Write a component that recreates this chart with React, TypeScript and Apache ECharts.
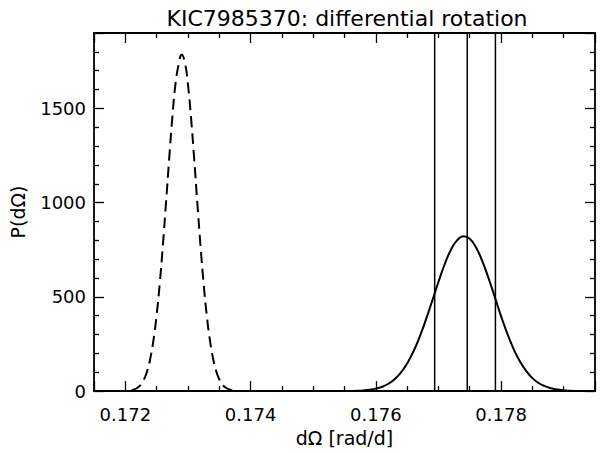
import React, { useEffect, useRef } from "react";
import * as echarts from "echarts";

const titleText = "KIC7985370: differential rotation";
const xName = "dΩ [rad/d]";
const yName = "P(dΩ)";

// dashed distribution
const dashX = [
  0.1721, 0.17215, 0.1722, 0.17225, 0.1723, 0.17235, 0.1724, 0.17245, 0.1725, 0.17255,
  0.1726, 0.17265, 0.1727, 0.17275, 0.1728, 0.17285, 0.1729, 0.17295, 0.173, 0.17305,
  0.1731, 0.17315, 0.1732, 0.17325, 0.1733, 0.17335, 0.1734, 0.17345, 0.1735, 0.17355,
  0.1736, 0.17365, 0.1737, 0.1738, 0.1740,
];
const dashY = [
  5, 10, 19, 35, 63, 107, 175, 272, 404, 572,
  774, 999, 1231, 1448, 1627, 1730, 1785, 1745, 1627, 1448,
  1231, 999, 774, 572, 404, 272, 175, 107, 63, 35,
  19, 10, 5, 1, 0,
];

// solid distribution
const solidX = [
  0.1755, 0.1756, 0.1757, 0.1758, 0.1759, 0.176, 0.1761, 0.1762, 0.1763, 0.1764,
  0.1765, 0.1766, 0.1767, 0.1768, 0.1769, 0.177, 0.1771, 0.1772, 0.1773, 0.1774,
  0.1775, 0.1776, 0.1777, 0.1778, 0.1779, 0.178, 0.1781, 0.1782, 0.1783, 0.1784,
  0.1785, 0.1786, 0.1787, 0.1788, 0.1789, 0.179, 0.1791, 0.1792, 0.1793, 0.1794, 0.1795,
];
const solidY = [
  0.4, 0.9, 1.9, 3.7, 7.1, 13, 23, 39, 63, 98,
  147, 210, 288, 379, 478, 579, 673, 750, 801, 822,
  808, 762, 690, 599, 499, 398, 305, 224, 158, 107,
  69, 43, 26, 15, 8, 4.2, 2.1, 1, 0.5, 0.2, 0.1,
];

// vertical marker lines (-1σ, median, +1σ)
const markerX = [0.17694, 0.17746, 0.17791];

const xMin = 0.1715;
const xMax = 0.1795;
const yMin = 0;
const yMax = 1900;

const FONT = "DejaVu Sans";

export default function App() {
  const ref = useRef<HTMLDivElement>(null);
  useEffect(() => {
    if (!ref.current) return;
    const chart = echarts.init(ref.current, undefined, { renderer: "svg" });
    const axisLine = { show: true, onZero: false, lineStyle: { color: "#000", width: 1.8 } };
    const tick = { show: true, inside: true, length: 10, lineStyle: { color: "#000", width: 1.3 } };
    const minor = { show: true, splitNumber: 4, length: 5, lineStyle: { color: "#000", width: 1.3 } };
    const minorY = { show: true, splitNumber: 5, length: 5, lineStyle: { color: "#000", width: 1.3 } };
    const label = { color: "#000", fontFamily: FONT, fontSize: 18 };
    const markerSeries = markerX.map((x) => ({
      type: "line",
      xAxisIndex: 0,
      yAxisIndex: 0,
      data: [
        [x, yMin],
        [x, yMax],
      ],
      showSymbol: false,
      silent: true,
      lineStyle: { color: "#000", width: 1.5 },
    }));
    const option: any = {
      animation: false,
      backgroundColor: "#fff",
      title: {
        text: titleText,
        left: 342,
        top: 2,
        textAlign: "center",
        textStyle: { color: "#000", fontFamily: FONT, fontSize: 22, fontWeight: "normal" },
      },
      grid: { left: 89, right: 5, top: 33, bottom: 60, containLabel: false },
      xAxis: [
        {
          type: "value",
          min: xMin,
          max: xMax,
          splitNumber: 4,
          position: "bottom",
          axisLine,
          axisTick: tick,
          minorTick: minor,
          splitLine: { show: false },
          axisLabel: {
            ...label,
            margin: 14,
            showMinLabel: false,
            showMaxLabel: false,
            formatter: (v: number) => v.toFixed(3),
          },
          name: xName,
          nameLocation: "middle",
          nameGap: 35,
          nameTextStyle: { color: "#000", fontFamily: FONT, fontSize: 19 },
        },
        {
          type: "value",
          min: xMin,
          max: xMax,
          splitNumber: 4,
          position: "top",
          axisLine,
          axisTick: tick,
          minorTick: minor,
          splitLine: { show: false },
          axisLabel: { show: false },
        },
      ],
      yAxis: [
        {
          type: "value",
          min: yMin,
          max: yMax,
          interval: 500,
          position: "left",
          axisLine,
          axisTick: tick,
          minorTick: minorY,
          splitLine: { show: false },
          axisLabel: { ...label, margin: 8, showMaxLabel: false, formatter: (v: number) => String(v) },
          name: yName,
          nameLocation: "middle",
          nameGap: 67,
          nameTextStyle: { color: "#000", fontFamily: FONT, fontSize: 19 },
        },
        {
          type: "value",
          min: yMin,
          max: yMax,
          interval: 500,
          position: "right",
          axisLine,
          axisTick: tick,
          minorTick: minorY,
          splitLine: { show: false },
          axisLabel: { show: false },
        },
      ],
      series: [
        {
          type: "line",
          xAxisIndex: 0,
          yAxisIndex: 0,
          data: dashX.map((x, i) => [x, dashY[i]]),
          smooth: true,
          showSymbol: false,
          clip: true,
          lineStyle: { color: "#000", width: 2, type: [11, 6] },
        },
        {
          type: "line",
          xAxisIndex: 0,
          yAxisIndex: 0,
          data: solidX.map((x, i) => [x, solidY[i]]),
          smooth: true,
          showSymbol: false,
          clip: true,
          lineStyle: { color: "#000", width: 2 },
        },
        ...markerSeries,
      ],
    };
    chart.setOption(option);
    return () => chart.dispose();
  }, []);
  return (
    <div
      ref={ref}
      style={{ position: "fixed", left: 0, top: 0, width: 600, height: 452, background: "#fff" }}
    />
  );
}
